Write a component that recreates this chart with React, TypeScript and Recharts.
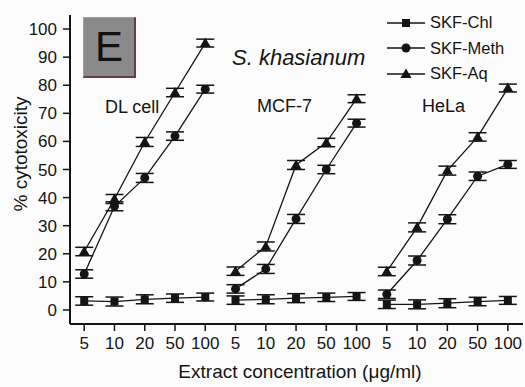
import { LineChart, Line, XAxis, YAxis, ErrorBar } from "recharts";

const groups = ["DL cell", "MCF-7", "HeLa"];
const concLabels = ["5", "10", "20", "50", "100"];

// % cytotoxicity per cell line, in the order of concLabels
const chl = [
  [3.2, 3.0, 3.8, 4.2, 4.6],
  [3.5, 3.8, 4.2, 4.5, 4.8],
  [2.0, 2.0, 2.4, 3.0, 3.4],
];
const meth = [
  [12.8, 36.9, 47.0, 61.9, 78.6],
  [7.5, 14.6, 32.4, 50.0, 66.5],
  [5.6, 17.6, 32.3, 47.6, 51.8],
];
const aq = [
  [20.8, 39.5, 59.8, 77.4, 95.0],
  [13.8, 22.6, 51.6, 59.6, 75.2],
  [13.7, 29.4, 49.6, 61.6, 79.0],
];
const errs = [1.5, 1.6, 1.6, 1.5, 1.4];

const font = "'Liberation Sans', Arial, sans-serif";
const ink = "#141414";

const groupData = groups.map((_, g) =>
  concLabels.map((_, i) => ({
    x: g * 5 + i,
    chl: chl[g][i],
    meth: meth[g][i],
    aq: aq[g][i],
    e: errs[i],
  }))
);

const xTicks = groupData.flat().map((d) => d.x);
const majorY = [0, 10, 20, 30, 40, 50, 60, 70, 80, 90, 100];
const minorY = [5, 15, 25, 35, 45, 55, 65, 75, 85, 95];

const Square = (p: any) =>
  p.cx == null ? <g key={p.key} /> : (
    <rect key={p.key} x={p.cx - 4} y={p.cy - 4} width={8} height={8} fill={ink} />
  );
const Circle = (p: any) =>
  p.cx == null ? <g key={p.key} /> : <circle key={p.key} cx={p.cx} cy={p.cy} r={4.5} fill={ink} />;
const Triangle = (p: any) =>
  p.cx == null ? <g key={p.key} /> : (
    <polygon
      key={p.key}
      points={`${p.cx},${p.cy - 5.5} ${p.cx - 5.5},${p.cy + 4} ${p.cx + 5.5},${p.cy + 4}`}
      fill={ink}
    />
  );

const series = [
  { key: "chl", name: "SKF-Chl", dot: Square },
  { key: "meth", name: "SKF-Meth", dot: Circle },
  { key: "aq", name: "SKF-Aq", dot: Triangle },
];

const LegendIcon = ({ idx }: { idx: number }) => (
  <svg width={38} height={14} style={{ display: "block" }}>
    <line x1={0} y1={7} x2={38} y2={7} stroke={ink} strokeWidth={1.5} />
    {idx === 0 && <rect x={15} y={3} width={8} height={8} fill={ink} />}
    {idx === 1 && <circle cx={19} cy={7} r={4.5} fill={ink} />}
    {idx === 2 && <polygon points="19,1.5 13.5,11 24.5,11" fill={ink} />}
  </svg>
);

const App = () => {
  return (
    <div
      style={{
        position: "absolute",
        left: 0,
        top: 0,
        width: 525,
        height: 387,
        background: "#fcfcfc",
        fontFamily: font,
        color: ink,
      }}
    >
      <LineChart
        width={525}
        height={387}
        margin={{ top: 15, right: 2, left: 0, bottom: 0 }}
        style={{ fontFamily: font }}
      >
        <XAxis
          type="number"
          dataKey="x"
          domain={[-0.47, 14.5]}
          ticks={xTicks}
          tickFormatter={(v: number) => concLabels[v % 5]}
          interval={0}
          height={63}
          allowDuplicatedCategory={false}
          axisLine={{ stroke: ink, strokeWidth: 2 }}
          tickLine={{ stroke: ink, strokeWidth: 1.5 }}
          tickSize={7}
          tick={{ fill: ink, fontSize: 17, fontFamily: font }}
          tickMargin={6}
        />
        <YAxis
          yAxisId="main"
          type="number"
          domain={[-5, 105]}
          ticks={majorY}
          interval={0}
          width={70}
          axisLine={{ stroke: ink, strokeWidth: 2 }}
          tickLine={{ stroke: ink, strokeWidth: 1.5 }}
          tickSize={7}
          tick={{ fill: ink, fontSize: 17, fontFamily: font }}
          tickMargin={6}
        />
        <YAxis
          yAxisId="minor"
          type="number"
          domain={[-5, 105]}
          ticks={minorY}
          interval={0}
          width={0}
          axisLine={false}
          tickLine={{ stroke: ink, strokeWidth: 1.5 }}
          tickSize={4}
          tick={false}
          orientation="left"
        />
        {groupData.map((data, g) =>
          series.map((s) => (
            <Line
              key={`${s.key}-${g}`}
              yAxisId="main"
              data={data}
              dataKey={s.key}
              stroke={ink}
              strokeWidth={1.3}
              dot={s.dot}
              activeDot={false}
              isAnimationActive={false}
            >
              <ErrorBar dataKey="e" direction="y" width={9} stroke={ink} strokeWidth={1.5} />
            </Line>
          ))
        )}
      </LineChart>

      {/* panel badge */}
      <div
        style={{
          position: "absolute",
          left: 83,
          top: 17,
          width: 50,
          height: 58,
          background: "#8a8a8a",
          borderRight: "2px solid #6b3a48",
          borderBottom: "2px solid #6b3a48",
          borderTop: "1px solid #a99",
          borderLeft: "1px solid #a99",
          display: "flex",
          alignItems: "center",
          justifyContent: "center",
          fontSize: 42,
          color: "#111",
        }}
      >
        E
      </div>

      <div style={{ position: "absolute", left: 232, top: 45, fontSize: 22, fontStyle: "italic" }}>
        S. khasianum
      </div>
      <div style={{ position: "absolute", left: 105, top: 97, fontSize: 18 }}>{groups[0]}</div>
      <div style={{ position: "absolute", left: 257, top: 96, fontSize: 18 }}>{groups[1]}</div>
      <div style={{ position: "absolute", left: 422, top: 96, fontSize: 18 }}>{groups[2]}</div>

      {/* legend */}
      <div style={{ position: "absolute", left: 387, top: 10 }}>
        {series.map((s, i) => (
          <div key={s.key} style={{ display: "flex", alignItems: "center", height: 25.5, fontSize: 16.5 }}>
            <LegendIcon idx={i} />
            <span style={{ marginLeft: 5 }}>{s.name}</span>
          </div>
        ))}
      </div>

      <div
        style={{
          position: "absolute",
          left: 21,
          top: 154,
          transform: "translate(-50%, -50%) rotate(-90deg)",
          whiteSpace: "nowrap",
          fontSize: 19,
        }}
      >
        % cytotoxicity
      </div>
      <div
        style={{
          position: "absolute",
          left: 300,
          top: 372,
          transform: "translate(-50%, -50%)",
          whiteSpace: "nowrap",
          fontSize: 19,
        }}
      >
        Extract concentration (μg/ml)
      </div>
    </div>
  );
};

export default App;
